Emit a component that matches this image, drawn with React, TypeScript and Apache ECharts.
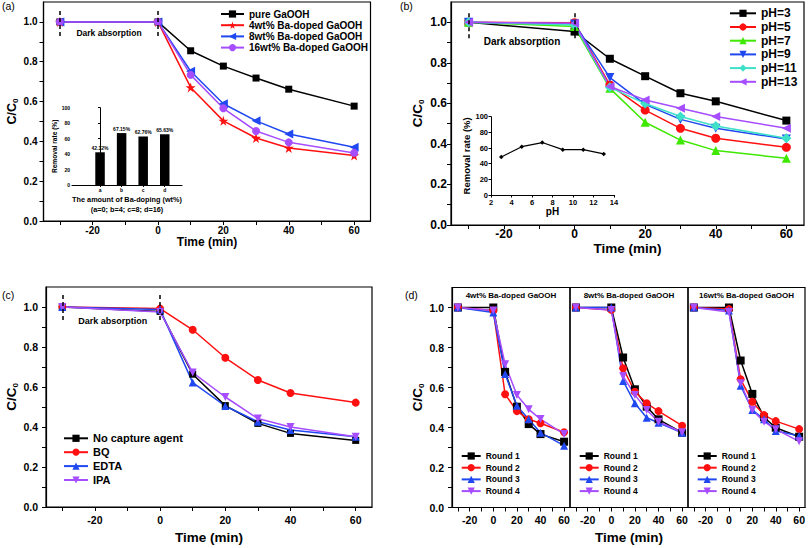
import React, { useEffect, useRef } from 'react';
import * as echarts from 'echarts';

const FONT = '"Liberation Sans", Arial, Helvetica, sans-serif';

// shared axis values
const timePoints = [-30, 0, 10, 20, 30, 40, 60];
const xTickValues = [-30, -20, -10, 0, 10, 20, 30, 40, 50, 60];
const xTickLabels = [-20, 0, 20, 40, 60];
const yTickValues = [0, 0.1, 0.2, 0.3, 0.4, 0.5, 0.6, 0.7, 0.8, 0.9, 1.0];
const yTickLabels = [0, 0.2, 0.4, 0.6, 0.8, 1.0];
const darkLineX = [-30, 0];

// (a)
const pureGaOOH = [1.0, 1.0, 0.855, 0.778, 0.718, 0.662, 0.577];
const ba4wt = [1.0, 1.0, 0.671, 0.503, 0.417, 0.367, 0.329];
const ba8wt = [1.0, 1.0, 0.752, 0.589, 0.503, 0.437, 0.37];
const ba16wt = [1.0, 1.0, 0.734, 0.566, 0.452, 0.395, 0.342];
const insetACats = ['a', 'b', 'c', 'd'];
const insetAValues = [42.32, 67.15, 62.76, 65.63];

// (b)
const pH3 = [1.0, 0.954, 0.82, 0.734, 0.65, 0.61, 0.515];
const pH5 = [1.0, 0.998, 0.691, 0.567, 0.477, 0.428, 0.383];
const pH7 = [1.0, 0.979, 0.674, 0.507, 0.419, 0.367, 0.329];
const pH9 = [1.0, 0.992, 0.727, 0.595, 0.521, 0.477, 0.424];
const pH11 = [1.0, 0.987, 0.679, 0.599, 0.535, 0.488, 0.428];
const pH13 = [1.0, 0.995, 0.683, 0.617, 0.576, 0.535, 0.477];
const insetBpH = [3, 5, 7, 9, 11, 13];
const insetBRemoval = [48.5, 61.7, 67.0, 57.9, 57.9, 52.5];

// (c)
const noCapture = [1.0, 0.978, 0.664, 0.507, 0.418, 0.368, 0.333];
const bq = [1.0, 0.992, 0.886, 0.746, 0.635, 0.57, 0.522];
const edta = [1.0, 0.987, 0.622, 0.505, 0.426, 0.385, 0.351];
const ipa = [1.0, 0.975, 0.672, 0.55, 0.442, 0.4, 0.351];

// (d)
const dTitles = ['4wt% Ba-doped GaOOH', '8wt% Ba-doped GaOOH', '16wt% Ba-doped GaOOH'];
const roundNames = ['Round 1', 'Round 2', 'Round 3', 'Round 4'];
const d4wt = [
  [1.0, 1.0, 0.678, 0.504, 0.417, 0.367, 0.329],
  [1.0, 0.985, 0.566, 0.482, 0.441, 0.421, 0.376],
  [1.0, 0.975, 0.668, 0.509, 0.441, 0.374, 0.309],
  [1.0, 0.985, 0.716, 0.563, 0.491, 0.442, 0.367],
];
const d8wt = [
  [1.0, 1.0, 0.75, 0.591, 0.504, 0.441, 0.374],
  [1.0, 0.988, 0.696, 0.579, 0.521, 0.482, 0.409],
  [1.0, 1.0, 0.633, 0.521, 0.449, 0.424, 0.374],
  [1.0, 0.988, 0.656, 0.563, 0.488, 0.429, 0.376],
];
const d16wt = [
  [1.0, 1.0, 0.735, 0.568, 0.451, 0.399, 0.354],
  [1.0, 0.992, 0.641, 0.529, 0.462, 0.432, 0.392],
  [1.0, 0.985, 0.609, 0.487, 0.441, 0.382, 0.359],
  [1.0, 0.978, 0.621, 0.487, 0.429, 0.391, 0.331],
];

const BLACK = '#000000';
const RED = '#ff1010';
const BLUE = '#2048f0';
const PURPLE = '#a64dff';
const GREEN = '#3ee800';
const CYAN = '#3fe0c8';
const STAR = 'path://M50,0 L61,35 L98,35 L68,57 L79,91 L50,70 L21,91 L32,57 L2,35 L39,35 Z';

const roundStyles = [
  { color: BLACK, symbol: 'rect', rot: 0 },
  { color: RED, symbol: 'circle', rot: 0 },
  { color: BLUE, symbol: 'triangle', rot: 0 },
  { color: PURPLE, symbol: 'triangle', rot: 180 },
];

function lineSeries(name: string, values: number[], gi: number, color: string, symbol: string, size: number, rot = 0, extra: any = {}) {
  return {
    type: 'line',
    name,
    xAxisIndex: gi,
    yAxisIndex: gi,
    data: timePoints.map((t, i) => [t, values[i]]),
    symbol,
    symbolSize: size,
    symbolRotate: rot,
    showAllSymbol: true,
    lineStyle: { color, width: 1.5 },
    itemStyle: { color, borderWidth: 0 },
    z: 3,
    ...extra,
  };
}

function darkMarkLine(top: number, bottom: number) {
  return {
    markLine: {
      silent: true,
      symbol: ['none', 'none'],
      label: { show: false },
      lineStyle: { color: BLACK, width: 1.5, type: [4, 3] },
      data: darkLineX.map((x) => [{ coord: [x, top] }, { coord: [x, bottom] }]),
    },
  };
}

function mainX(gi: number, o: { fs: number; lm: number; name?: string; ng?: number; nfs?: number }) {
  return {
    gridIndex: gi,
    type: 'value',
    min: -35,
    max: 65,
    axisLine: { show: true, onZero: false, lineStyle: { color: BLACK, width: 1.2 } },
    axisTick: { show: true, inside: false, length: 4, customValues: xTickValues, lineStyle: { color: BLACK, width: 1 } },
    axisLabel: { show: true, customValues: xTickLabels, color: BLACK, fontFamily: FONT, fontWeight: 'bold', fontSize: o.fs, margin: o.lm },
    splitLine: { show: false },
    name: o.name || '',
    nameLocation: 'middle',
    nameGap: o.ng || 0,
    nameTextStyle: { color: BLACK, fontFamily: FONT, fontWeight: 'bold', fontSize: o.nfs || 13 },
  };
}

function mainY(gi: number, o: { show: boolean; fs?: number; lm?: number; ng?: number; nfs?: number }) {
  const nfs = o.nfs || 13;
  return {
    gridIndex: gi,
    type: 'value',
    min: 0,
    max: 1.1,
    axisLine: { show: o.show, onZero: false, lineStyle: { color: BLACK, width: 1.2 } },
    axisTick: { show: o.show, inside: false, length: 4, customValues: yTickValues, lineStyle: { color: BLACK, width: 1 } },
    axisLabel: {
      show: o.show,
      customValues: yTickLabels,
      formatter: (v: number) => v.toFixed(1),
      color: BLACK,
      fontFamily: FONT,
      fontWeight: 'bold',
      fontSize: o.fs || 10,
      margin: o.lm || 6,
    },
    splitLine: { show: false },
    name: o.show ? '{a|C/C}{b|0}' : '',
    nameLocation: 'middle',
    nameRotate: 90,
    nameGap: o.ng || 22,
    nameTextStyle: {
      color: BLACK,
      rich: {
        a: { fontFamily: FONT, fontWeight: 'bold', fontSize: nfs, lineHeight: 16, color: BLACK },
        b: { fontFamily: FONT, fontWeight: 'bold', fontSize: Math.round(nfs * 0.62), verticalAlign: 'bottom', color: BLACK },
      },
    },
  };
}

function legend(names: string[], left: number, top: number, itemWidth: number, fs: number, lh: number, gap: number) {
  return {
    data: names,
    orient: 'vertical',
    left,
    top,
    padding: 0,
    itemWidth,
    itemHeight: Math.min(9, lh - 1),
    itemGap: gap,
    selectedMode: false,
    textStyle: { color: BLACK, fontFamily: FONT, fontWeight: 'bold', fontSize: fs, lineHeight: lh },
  };
}

function text(t: string, x: number, y: number, fs: number, bold = true, align = 'center') {
  return {
    type: 'text',
    x,
    y,
    silent: true,
    style: { text: t, fill: BLACK, font: `${bold ? 'bold ' : ''}${fs}px ${FONT}`, align, verticalAlign: 'middle' },
  };
}

function buildOption() {
  const series: any[] = [];
  // (a)
  series.push(lineSeries('pure GaOOH', pureGaOOH, 0, BLACK, 'rect', 7, 0, darkMarkLine(1.055, 0.921)));
  series.push(lineSeries('4wt% Ba-doped GaOOH', ba4wt, 0, RED, STAR, 10));
  series.push(lineSeries('8wt% Ba-doped GaOOH', ba8wt, 0, BLUE, 'triangle', 9, 90));
  series.push(lineSeries('16wt% Ba-doped GaOOH', ba16wt, 0, PURPLE, 'circle', 8));
  // (b)
  series.push(lineSeries('pH=3', pH3, 1, BLACK, 'rect', 8, 0, darkMarkLine(1.044, 0.913)));
  series.push(lineSeries('pH=5', pH5, 1, RED, 'circle', 9));
  series.push(lineSeries('pH=7', pH7, 1, GREEN, 'triangle', 9));
  series.push(lineSeries('pH=9', pH9, 1, BLUE, 'triangle', 9, 180));
  series.push(lineSeries('pH=11', pH11, 1, CYAN, 'diamond', 10));
  series.push(lineSeries('pH=13', pH13, 1, PURPLE, 'triangle', 9, 90));
  // (c)
  series.push(lineSeries('No capture agent', noCapture, 2, BLACK, 'rect', 7, 0, darkMarkLine(1.06, 0.92)));
  series.push(lineSeries('BQ', bq, 2, RED, 'circle', 8));
  series.push(lineSeries('EDTA', edta, 2, BLUE, 'triangle', 8));
  series.push(lineSeries('IPA', ipa, 2, PURPLE, 'triangle', 8, 180));
  // (d)
  [d4wt, d8wt, d16wt].forEach((set, k) => {
    set.forEach((vals, r) => {
      const st = roundStyles[r];
      series.push(lineSeries(roundNames[r], vals, 3 + k, st.color, st.symbol, 8, st.rot));
    });
  });
  // inset (a)
  series.push({
    type: 'bar',
    name: 'Removal rate',
    xAxisIndex: 6,
    yAxisIndex: 6,
    data: insetAValues.map((v, i) => [i, v]),
    barWidth: 9.5,
    itemStyle: { color: BLACK },
    label: {
      show: true,
      position: 'top',
      distance: 2,
      formatter: (p: any) => p.value[1].toFixed(2) + '%',
      color: BLACK,
      fontFamily: FONT,
      fontWeight: 'bold',
      fontSize: 5,
    },
  });
  // inset (b)
  series.push({
    type: 'line',
    name: 'Removal rate pH',
    xAxisIndex: 7,
    yAxisIndex: 7,
    data: insetBpH.map((p, i) => [p, insetBRemoval[i]]),
    symbol: 'diamond',
    symbolSize: 4.5,
    lineStyle: { color: BLACK, width: 1.2 },
    itemStyle: { color: BLACK },
  });

  const grid = [
    { left: 43.5, top: 2, width: 327, height: 219 },
    { left: 451, top: 2, width: 353, height: 223 },
    { left: 46, top: 287, width: 326, height: 220 },
    { left: 452, top: 287.5, width: 118, height: 220 },
    { left: 570, top: 287.5, width: 118, height: 220 },
    { left: 688, top: 287.5, width: 117, height: 220 },
  ].map((g) => ({ ...g, show: true, borderColor: BLACK, borderWidth: 1.2, backgroundColor: 'transparent' }));
  grid.push({ left: 72, top: 107.7, width: 110, height: 77.3, show: false } as any);
  grid.push({ left: 491, top: 116.7, width: 123, height: 78.3, show: false } as any);

  const xAxis: any[] = [
    mainX(0, { fs: 10, lm: 4, name: 'Time (min)', ng: 15, nfs: 12 }),
    mainX(1, { fs: 12, lm: 3, name: 'Time (min)', ng: 16, nfs: 13.5 }),
    mainX(2, { fs: 10.5, lm: 7, name: 'Time (min)', ng: 23, nfs: 13.5 }),
    mainX(3, { fs: 10.5, lm: 7 }),
    mainX(4, { fs: 10.5, lm: 7, name: 'Time (min)', ng: 23, nfs: 13.5 }),
    mainX(5, { fs: 10.5, lm: 7 }),
    {
      gridIndex: 6,
      type: 'value',
      min: -1.3,
      max: 3.8,
      axisLine: { show: true, onZero: false, lineStyle: { color: BLACK, width: 1 } },
      axisTick: { show: true, length: 2, customValues: [0, 1, 2, 3], lineStyle: { color: BLACK } },
      axisLabel: {
        customValues: [0, 1, 2, 3],
        formatter: (v: number) => insetACats[Math.round(v)],
        color: BLACK,
        fontFamily: FONT,
        fontWeight: 'bold',
        fontSize: 5,
        margin: 2,
      },
      splitLine: { show: false },
      name: 'The amount of Ba-doping (wt%)\n(a=0; b=4; c=8; d=16)',
      nameLocation: 'middle',
      nameGap: 9,
      nameTextStyle: { color: BLACK, fontFamily: FONT, fontWeight: 'bold', fontSize: 7.3, lineHeight: 10 },
    },
    {
      gridIndex: 7,
      type: 'value',
      min: 2,
      max: 14,
      interval: 2,
      axisLine: { show: true, onZero: false, lineStyle: { color: BLACK, width: 1 } },
      axisTick: { show: true, length: 2.5, lineStyle: { color: BLACK } },
      axisLabel: { color: BLACK, fontFamily: FONT, fontWeight: 'bold', fontSize: 7.5, margin: 3 },
      splitLine: { show: false },
      name: 'pH',
      nameLocation: 'middle',
      nameGap: 11,
      nameTextStyle: { color: BLACK, fontFamily: FONT, fontWeight: 'bold', fontSize: 10 },
    },
  ];

  const yAxis: any[] = [
    mainY(0, { show: true, fs: 10, lm: 6, ng: 22, nfs: 12.5 }),
    mainY(1, { show: true, fs: 12, lm: 4, ng: 26, nfs: 13.5 }),
    mainY(2, { show: true, fs: 10.5, lm: 8, ng: 26, nfs: 13.5 }),
    mainY(3, { show: true, fs: 10.5, lm: 8, ng: 26, nfs: 13.5 }),
    mainY(4, { show: false }),
    mainY(5, { show: false }),
    {
      gridIndex: 6,
      type: 'value',
      min: 0,
      max: 100,
      interval: 20,
      axisLine: { show: true, lineStyle: { color: BLACK, width: 1 } },
      axisTick: { show: true, length: 2, lineStyle: { color: BLACK } },
      axisLabel: { color: BLACK, fontFamily: FONT, fontWeight: 'bold', fontSize: 5, margin: 2 },
      splitLine: { show: false },
      name: 'Removal rate (%)',
      nameLocation: 'middle',
      nameRotate: 90,
      nameGap: 11,
      nameTextStyle: { color: BLACK, fontFamily: FONT, fontWeight: 'bold', fontSize: 6.6 },
    },
    {
      gridIndex: 7,
      type: 'value',
      min: 0,
      max: 100,
      interval: 20,
      axisLine: { show: true, lineStyle: { color: BLACK, width: 1 } },
      axisTick: { show: true, length: 2.5, lineStyle: { color: BLACK } },
      axisLabel: { color: BLACK, fontFamily: FONT, fontWeight: 'bold', fontSize: 7.5, margin: 3 },
      splitLine: { show: false },
      name: 'Removal rate (%)',
      nameLocation: 'middle',
      nameRotate: 90,
      nameGap: 15,
      nameTextStyle: { color: BLACK, fontFamily: FONT, fontWeight: 'bold', fontSize: 9.5 },
    },
  ];

  const legends = [
    legend(['pure GaOOH', '4wt% Ba-doped GaOOH', '8wt% Ba-doped GaOOH', '16wt% Ba-doped GaOOH'], 220, 8.5, 23, 10, 11, 0.2),
    legend(['pH=3', 'pH=5', 'pH=7', 'pH=9', 'pH=11', 'pH=13'], 729, 6.8, 26, 12, 13, 0.7),
    legend(['No capture agent', 'BQ', 'EDTA', 'IPA'], 63, 431.8, 24, 11, 13, 0.9),
    legend(roundNames, 460.7, 450.5, 19, 8.5, 11, 0.7),
    legend(roundNames, 578.7, 450.5, 19, 8.5, 11, 0.7),
    legend(roundNames, 696.7, 450.5, 19, 8.5, 11, 0.7),
  ];

  const graphic = [
    text('(a)', 2, 6, 10.5, false, 'left'),
    text('(b)', 400, 6, 10.5, false, 'left'),
    text('(c)', 2, 295, 10.5, false, 'left'),
    text('(d)', 405, 295, 10.5, false, 'left'),
    text('Dark absorption', 109, 33, 8.5),
    text('Dark absorption', 522, 41.7, 10),
    text('Dark absorption', 112.7, 321, 9),
    text(dTitles[0], 511, 295.3, 8),
    text(dTitles[1], 629, 295.3, 8),
    text(dTitles[2], 746.5, 295.3, 8),
  ];

  return {
    animation: false,
    backgroundColor: '#ffffff',
    textStyle: { fontFamily: FONT },
    grid,
    xAxis,
    yAxis,
    legend: legends,
    series,
    graphic,
  };
}

export default function App() {
  const ref = useRef<HTMLDivElement>(null);
  useEffect(() => {
    if (!ref.current) return;
    const chart = echarts.init(ref.current, null, { renderer: 'svg' });
    chart.setOption(buildOption() as any);
    return () => chart.dispose();
  }, []);
  return <div ref={ref} style={{ position: 'absolute', left: 0, top: 0, width: 808, height: 548 }} />;
}
